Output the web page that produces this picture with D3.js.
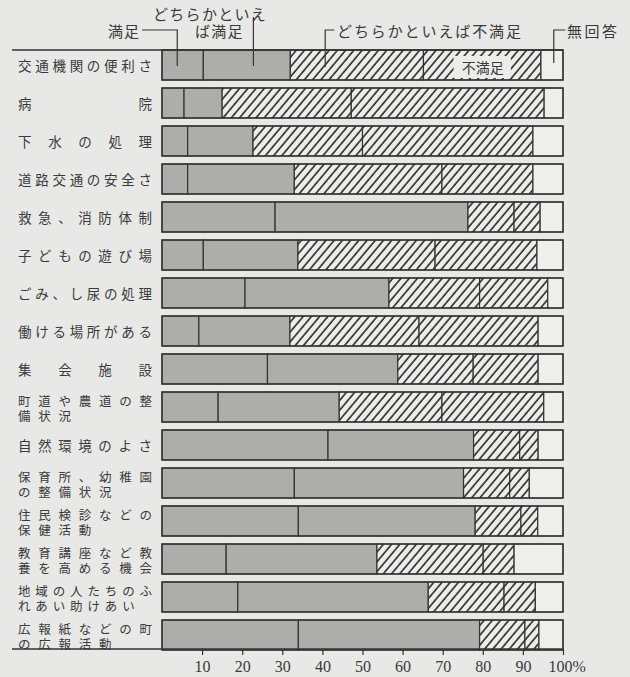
<!DOCTYPE html>
<html>
<head>
<meta charset="utf-8">
<script src="https://cdn.jsdelivr.net/npm/d3@7"></script>
<style>
  body { margin: 0; background: #e8e8e6; }
  svg { display: block; }
</style>
</head>
<body>
<script>
// 住民の満足度（%）

const categories = [
  "交通機関の便利さ",
  "病院",
  "下水の処理",
  "道路交通の安全さ",
  "救急、消防体制",
  "子どもの遊び場",
  "ごみ、し尿の処理",
  "働ける場所がある",
  "集会施設",
  "町道や農道の整\n備状況",
  "自然環境のよさ",
  "保育所、幼稚園\nの整備状況",
  "住民検診などの\n保健活動",
  "教育講座など教\n養を高める機会",
  "地域の人たちのふ\nれあい助けあい",
  "広報紙などの町\nの広報活動",
];

const satisfied = [10.3, 5.5, 6.4, 6.4, 28.2, 10.3, 20.7, 9.2, 26.3, 14.0, 41.4, 33.0, 34.0, 16.0, 18.9, 34.0];
const ratherSatisfied = [21.7, 9.5, 16.3, 26.6, 48.1, 23.6, 35.9, 22.7, 32.5, 30.2, 36.3, 42.2, 44.1, 37.6, 47.5, 45.2];
const ratherDissatisfied = [33.2, 32.2, 27.3, 36.8, 11.5, 34.2, 22.6, 32.2, 18.8, 25.6, 11.5, 11.5, 11.4, 26.5, 18.9, 11.3];
const dissatisfied = [29.3, 48.1, 42.5, 22.7, 6.5, 25.4, 17.0, 29.7, 16.2, 25.4, 4.6, 4.9, 4.2, 7.7, 7.8, 3.5];
const noAnswer = [5.5, 4.7, 7.5, 7.5, 5.7, 6.5, 3.8, 6.2, 6.2, 4.8, 6.2, 8.4, 6.3, 12.2, 6.9, 6.0];

const tickValues = [10, 20, 30, 40, 50, 60, 70, 80, 90, 100];

const keys = ["satisfied", "ratherSatisfied", "ratherDissatisfied", "dissatisfied", "noAnswer"];

const width = 630;
const height = 677;
const bg = "#e8e8e6";
const ink = "#333";
// serif first so the line box stays compact, CJK glyphs come from Noto
const jp = "'Liberation Serif', 'Noto Sans CJK JP', serif";

const rows = categories.map((c, i) => ({
  category: c,
  satisfied: satisfied[i],
  ratherSatisfied: ratherSatisfied[i],
  ratherDissatisfied: ratherDissatisfied[i],
  dissatisfied: dissatisfied[i],
  noAnswer: noAnswer[i],
}));

const stacked = d3.stack().keys(keys)(rows);

const x = d3.scaleLinear().domain([0, 100]).range([162, 563]);
const y = d3
  .scaleBand()
  .domain(categories)
  .range([50, 650])
  .paddingInner(8 / 38)
  .paddingOuter(0);

const svg = d3
  .select("body")
  .append("svg")
  .attr("width", width)
  .attr("height", height);

svg
  .append("rect")
  .attr("width", width)
  .attr("height", height)
  .attr("fill", bg);

// hatch for the dissatisfied parts
const defs = svg.append("defs");
const hatch = defs
  .append("pattern")
  .attr("id", "hatch")
  .attr("patternUnits", "userSpaceOnUse")
  .attr("width", 6.3)
  .attr("height", 10)
  .attr("patternTransform", "rotate(40)");
hatch.append("rect").attr("width", 6.3).attr("height", 10).attr("fill", "#ecece9");
hatch
  .append("line")
  .attr("x1", 1)
  .attr("y1", 0)
  .attr("x2", 1)
  .attr("y2", 10)
  .attr("stroke", "#2a2a2a")
  .attr("stroke-width", 1.6);

const fills = ["#adadab", "#adadab", "url(#hatch)", "url(#hatch)", "#eeeeec"];

// outer box for every bar
svg
  .append("g")
  .selectAll("rect")
  .data(categories)
  .enter()
  .append("rect")
  .attr("x", x(0))
  .attr("y", (d) => y(d))
  .attr("width", x(100) - x(0))
  .attr("height", y.bandwidth())
  .attr("fill", "#eeeeec");

// segments
svg
  .append("g")
  .selectAll("g")
  .data(stacked)
  .enter()
  .append("g")
  .attr("fill", (s, i) => fills[i])
  .selectAll("rect")
  .data((s) => s)
  .enter()
  .append("rect")
  .attr("x", (d) => x(d[0]))
  .attr("y", (d) => y(d.data.category))
  .attr("width", (d) => x(d[1]) - x(d[0]))
  .attr("height", y.bandwidth())
  .attr("stroke", ink)
  .attr("stroke-width", 1.2);

// outline again on top
svg
  .append("g")
  .selectAll("rect")
  .data(categories)
  .enter()
  .append("rect")
  .attr("x", x(0))
  .attr("y", (d) => y(d))
  .attr("width", x(100) - x(0))
  .attr("height", y.bandwidth())
  .attr("fill", "none")
  .attr("stroke", ink)
  .attr("stroke-width", 1.3);

// category labels, spread out character by character
const labelLeft = 18;
const labelRight = 152;
const labelSize = 13.5;
const labels = svg.append("g").attr("fill", "#3a3a3a").attr("font-family", jp);

categories.forEach((c) => {
  const lines = c.split("\n");
  const size = lines.length === 1 ? labelSize : 12.5;
  const first = Array.from(lines[0]);
  const step = (labelRight - labelLeft - size) / (first.length - 1);
  const cy = y(c) + y.bandwidth() / 2 + 1;
  lines.forEach((line, li) => {
    const ly = lines.length === 1 ? cy : cy + (li === 0 ? -7.5 : 8);
    labels
      .append("g")
      .attr("font-size", size)
      .selectAll("text")
      .data(Array.from(line))
      .enter()
      .append("text")
      .attr("x", (ch, i) => labelLeft + i * step)
      .attr("y", ly + size * 0.4)
      .text((ch) => ch);
  });
});

// top rule
svg
  .append("line")
  .attr("x1", 12)
  .attr("x2", x(100))
  .attr("y1", 50)
  .attr("y2", 50)
  .attr("stroke", ink)
  .attr("stroke-width", 1.5);

// bottom axis
const axis = svg
  .append("g")
  .attr("transform", "translate(0,649)")
  .call(
    d3
      .axisBottom(x)
      .tickValues(tickValues)
      .tickSize(6)
      .tickSizeOuter(0)
      .tickFormat((d) => (d === 100 ? "100%" : d))
  );
axis.select(".domain").remove();
axis.selectAll("line").attr("stroke", ink).attr("stroke-width", 1.2);
axis
  .selectAll("text")
  .attr("fill", "#3a3a3a")
  .attr("font-family", "'Liberation Serif', serif")
  .attr("font-size", 16)
  .attr("dy", 0)
  .attr("y", 23);
axis
  .selectAll("text")
  .filter((d) => d === 100)
  .attr("text-anchor", "start")
  .attr("x", -15);
svg
  .append("line")
  .attr("x1", 12)
  .attr("x2", x(100))
  .attr("y1", 649)
  .attr("y2", 649)
  .attr("stroke", ink)
  .attr("stroke-width", 1.5);

// "不満足" written inside the first bar
const firstRow = categories[0];
svg
  .append("rect")
  .attr("x", x(72.7))
  .attr("y", y(firstRow) + 6)
  .attr("width", x(87) - x(72.7))
  .attr("height", y.bandwidth() - 8)
  .attr("fill", "#ecece9");
svg
  .append("text")
  .attr("x", x(80))
  .attr("y", y(firstRow) + y.bandwidth() / 2 + 7.5)
  .attr("text-anchor", "middle")
  .attr("font-family", jp)
  .attr("font-size", 14)
  .attr("fill", "#3a3a3a")
  .text("不満足");

// legend with leader lines
const legend = svg.append("g").attr("font-family", jp).attr("font-size", 15).attr("fill", "#3a3a3a");
const leader = (points) =>
  svg
    .append("path")
    .attr("d", d3.line()(points))
    .attr("fill", "none")
    .attr("stroke", ink)
    .attr("stroke-width", 1.2);

const yTop = y(firstRow);
leader([[142, 30], [x(3.8), 30], [x(3.8), yTop + 16]]);
legend.append("text").attr("x", 140).attr("y", 37).attr("text-anchor", "end").attr("letter-spacing", 1).text("満足");

leader([[x(22.8), 17], [x(22.8), yTop + 16]]);
legend.append("text").attr("x", 153).attr("y", 20).attr("letter-spacing", 1.3).text("どちらかといえ");
legend.append("text").attr("x", 195).attr("y", 37).attr("letter-spacing", 1.3).text("ば満足");

leader([[x(43), 30], [x(40.7), 30], [x(40.7), yTop + 17]]);
legend.append("text").attr("x", 337).attr("y", 37).attr("letter-spacing", 1.9).text("どちらかといえば不満足");

leader([[x(100.6), 30], [x(97.7), 30], [x(97.7), yTop + 13]]);
legend.append("text").attr("x", 567).attr("y", 37).attr("letter-spacing", 2.5).text("無回答");
</script>
</body>
</html>
